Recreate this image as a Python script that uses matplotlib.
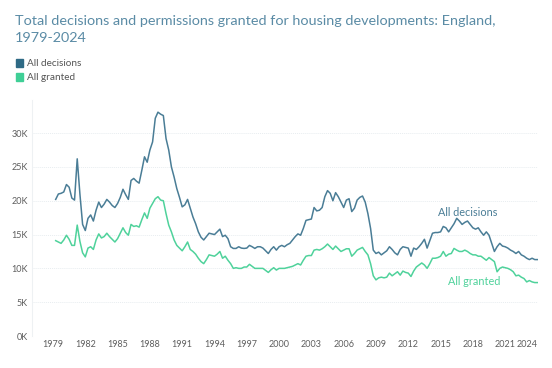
import numpy as np
import matplotlib
matplotlib.use("Agg")
import matplotlib.pyplot as plt
from matplotlib.patches import Rectangle

plt.rcParams['font.family'] = ['Lato', 'DejaVu Sans']

# quarterly values, 1979 Q2 .. 2024 Q1 (thousands)
decisions = [
    20.2, 21.0, 21.1,
    21.3, 22.4, 22.0, 20.4,
    20.1, 26.2, 21.0, 16.5,
    15.6, 17.4, 17.9, 17.0,
    18.6, 19.8, 19.0, 19.5,
    20.2, 19.8, 19.3, 19.0,
    19.6, 20.5, 21.7, 20.9,
    20.2, 23.0, 23.3, 22.9,
    22.6, 24.5, 26.5, 25.7,
    27.5, 28.7, 32.2, 33.1,
    32.8, 32.6, 29.2, 27.5,
    25.0, 23.5, 21.8, 20.5,
    19.1, 19.4, 20.2, 18.9,
    17.6, 16.6, 15.4, 14.6,
    14.2, 14.7, 15.2, 15.1,
    15.0, 15.4, 15.8, 14.7,
    14.9, 14.4, 13.2, 12.95,
    12.95, 13.2, 13.0, 12.95,
    13.0, 13.4, 13.2, 12.95,
    13.2, 13.2, 13.0, 12.6,
    12.2, 12.8, 13.2, 12.7,
    13.2, 13.4, 13.2, 13.5,
    13.7, 14.2, 14.7, 15.1,
    14.9, 15.9, 17.1, 17.2,
    17.3, 19.0, 18.5, 18.6,
    19.0, 20.6, 21.5, 21.1,
    20.0, 21.2, 20.6, 19.8,
    19.0, 20.1, 20.3, 18.4,
    18.9, 20.1, 20.5, 20.7,
    19.8, 18.1, 15.9, 12.7,
    12.2, 12.4, 12.0, 12.3,
    12.6, 13.2, 12.8, 12.3,
    12.0, 12.8, 13.2, 13.1,
    13.0, 11.8, 13.0, 12.8,
    13.2, 13.7, 14.3, 13.0,
    14.1, 15.2, 15.3, 15.3,
    15.4, 16.2, 16.0, 15.4,
    16.0, 16.6, 17.4, 17.0,
    16.5, 16.8, 17.0, 16.5,
    16.0, 15.8, 16.0, 15.4,
    14.9, 15.4, 14.9, 13.7,
    12.5, 13.2, 13.7, 13.3,
    13.2, 13.0, 12.7, 12.5,
    12.2, 12.5, 12.0, 11.8,
    11.5, 11.3, 11.5, 11.3,
    11.3,
]

granted = [
    14.1, 13.9, 13.7,
    14.2, 14.9, 14.3, 13.4,
    13.4, 16.4, 14.0, 12.3,
    11.7, 13.0, 13.2, 12.8,
    14.2, 15.1, 14.5, 14.7,
    15.2, 14.7, 14.3, 13.9,
    14.4, 15.2, 16.0, 15.3,
    14.9, 16.5, 16.2, 16.3,
    16.1, 17.2, 18.2, 17.4,
    18.9, 19.6, 20.3, 20.6,
    20.1, 20.0, 18.1, 16.4,
    15.4, 14.2, 13.4, 13.0,
    12.6, 13.2, 13.9, 12.8,
    12.5, 12.1, 11.5, 11.0,
    10.7, 11.3, 12.0, 11.9,
    11.8, 12.1, 12.5, 11.5,
    11.8, 11.2, 10.7, 10.0,
    10.1, 10.0, 10.0, 10.2,
    10.2, 10.6, 10.3, 10.0,
    10.0, 10.0, 10.0, 9.7,
    9.4, 9.8, 10.1, 9.75,
    10.0, 10.0, 10.0, 10.1,
    10.2, 10.3, 10.5, 10.7,
    10.5, 11.2, 11.8, 11.9,
    11.9, 12.7, 12.8, 12.7,
    12.9, 13.2, 13.6, 13.2,
    12.8, 13.3, 12.9, 12.5,
    12.7, 12.9, 12.9, 11.8,
    12.2, 12.7, 12.9, 13.1,
    12.5, 12.0, 10.7, 8.9,
    8.3, 8.6, 8.7, 8.6,
    8.7, 9.3, 8.9, 9.2,
    9.5, 9.0, 9.6, 9.4,
    9.3, 8.8, 9.6, 10.2,
    10.5, 10.8, 10.5, 10.0,
    10.7, 11.5, 11.5, 11.6,
    11.8, 12.5, 11.8, 12.1,
    12.2, 12.95, 12.7, 12.5,
    12.5, 12.7, 12.5, 12.2,
    12.0, 12.0, 11.8, 11.8,
    11.5, 11.2, 11.6, 11.3,
    11.0, 9.5, 10.0, 10.2,
    10.1, 10.0, 9.8, 9.5,
    8.9, 9.0, 8.7, 8.5,
    8.0, 8.2, 8.0, 7.9,
    7.9,
]

tick_years = [1979, 1982, 1985, 1988, 1991, 1994, 1997, 2000, 2003, 2006,
              2009, 2012, 2015, 2018, 2021, 2024]
y_ticks = [0, 5, 10, 15, 20, 25, 30]

t = 1979.25 + 0.25 * np.arange(len(decisions))

c_dec = '#4a7d96'
c_gr = '#4fd29b'
c_txt = '#5e5e5e'

fig = plt.figure(figsize=(5.52, 3.68), dpi=100)
ax = fig.add_axes([32 / 552, 1 - 336 / 368, 506 / 552, 236 / 368])

ax.plot(t, decisions, color=c_dec, lw=1.1)
ax.plot(t, granted, color=c_gr, lw=1.1)

ax.set_xlim(1977.05, 2024.05)
ax.set_ylim(0, 34.9)
ax.set_yticks(y_ticks)
ax.set_yticklabels([f'{v}K' for v in y_ticks])
ax.set_xticks(tick_years)
ax.set_xticklabels([str(y) for y in tick_years])
for lab in ax.get_xticklabels():
    if lab.get_text() == '2024':
        lab.set_horizontalalignment('right')

ax.tick_params(length=0, labelsize=6.5, labelcolor=c_txt, pad=3)
ax.grid(axis='y', color='#e8edf0', lw=0.7, linestyle=(0, (1, 1)))
for s in ['top', 'right', 'bottom']:
    ax.spines[s].set_visible(False)
ax.spines['left'].set_color('#eef1f3')
ax.spines['left'].set_linewidth(0.8)

ax.text(2014.75, 18.2, 'All decisions', color=c_dec, fontsize=7.8, va='center')
ax.text(2015.7, 8.1, 'All granted', color=c_gr, fontsize=7.8, va='center')

fig.text(15 / 552, 1 - 15 / 368,
         'Total decisions and permissions granted for housing developments: England,\n1979-2024',
         color='#5a8ba5', fontsize=10.4, va='top', ha='left', linespacing=1.45)

for i, (name, c) in enumerate([('All decisions', '#2e6a85'), ('All granted', '#3fcf96')]):
    yc = 63 + 14 * i
    fig.patches.append(Rectangle((16 / 552, 1 - (yc + 3.5) / 368), 7 / 552, 7 / 368,
                                 transform=fig.transFigure, color=c))
    fig.text(27 / 552, 1 - yc / 368, name, color='#555555', fontsize=7.2, va='center')

fig.savefig('out.png', dpi=100)
